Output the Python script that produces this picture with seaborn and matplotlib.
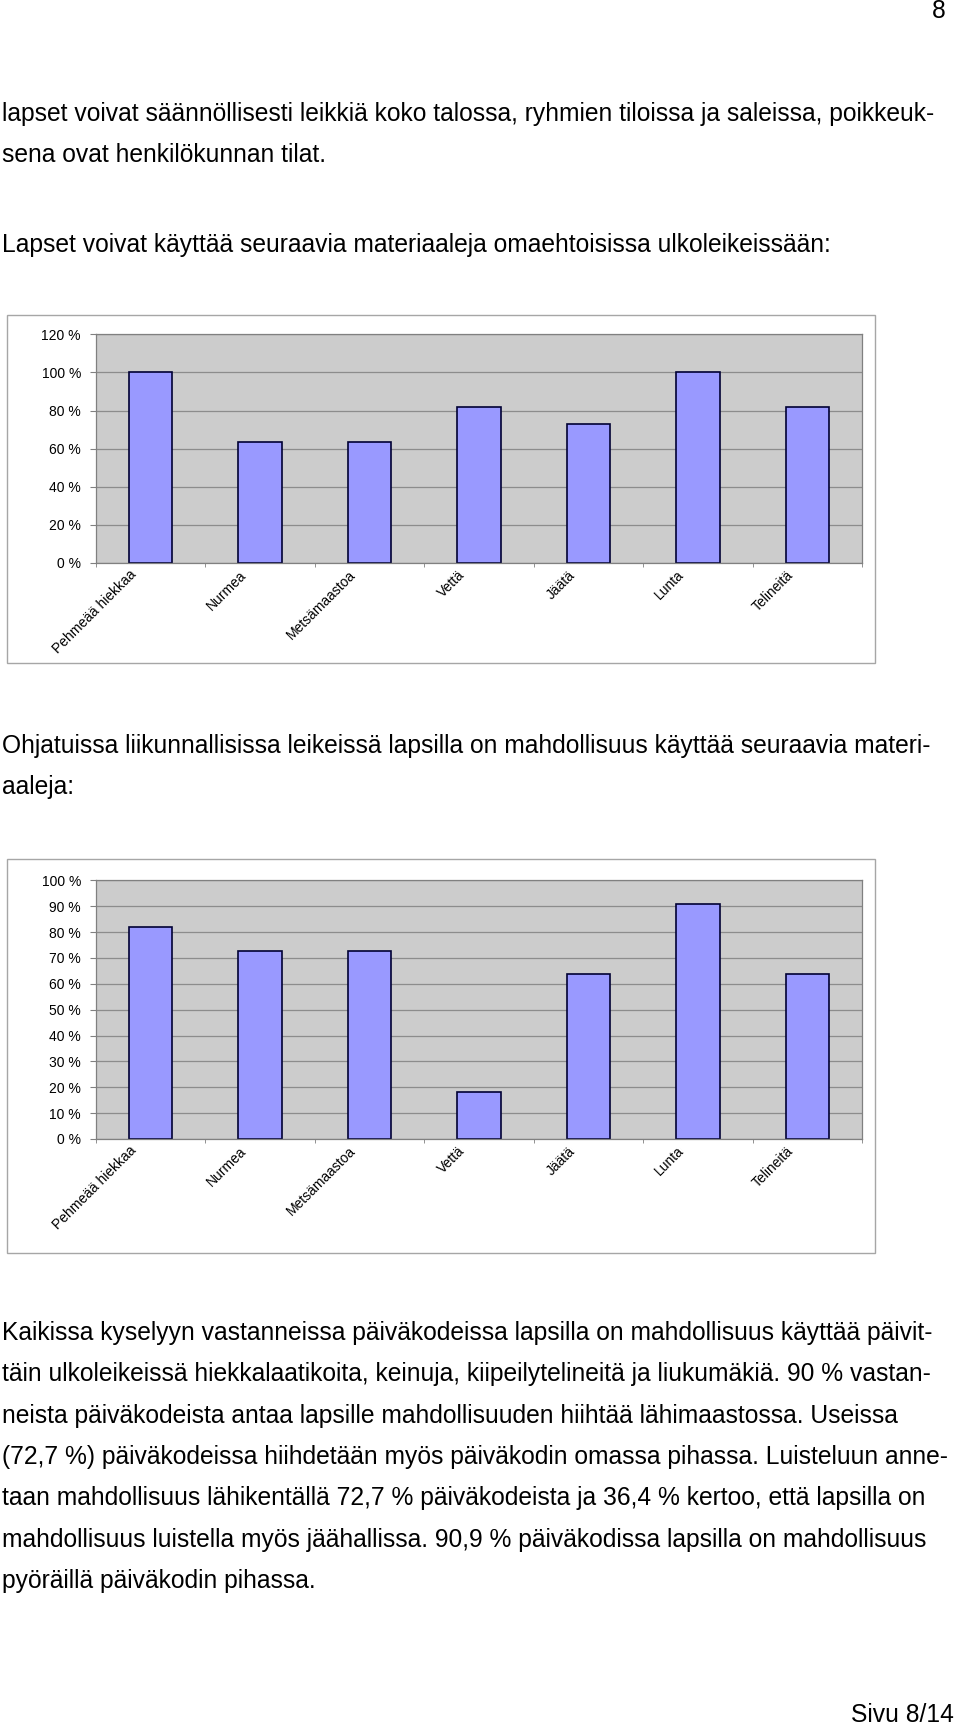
import numpy as np
import matplotlib
matplotlib.use("Agg")
import matplotlib.pyplot as plt
from matplotlib.patches import Rectangle
from matplotlib.transforms import ScaledTranslation
import seaborn as sns

# ---------------- data ----------------
categories = ["Pehmeää hiekkaa", "Nurmea", "Metsämaastoa", "Vettä", "Jäätä", "Lunta", "Telineitä"]
free_play_pct = [100, 63.6, 63.6, 81.8, 72.7, 100, 81.8]
guided_play_pct = [81.8, 72.7, 72.7, 18.2, 63.6, 90.9, 63.6]
yticks_chart1 = [0, 20, 40, 60, 80, 100, 120]
yticks_chart2 = [0, 10, 20, 30, 40, 50, 60, 70, 80, 90, 100]

page_number = "8"
footer = "Sivu 8/14"
para1 = ["lapset voivat säännöllisesti leikkiä koko talossa, ryhmien tiloissa ja saleissa, poikkeuk-",
         "sena ovat henkilökunnan tilat."]
para2 = ["Lapset voivat käyttää seuraavia materiaaleja omaehtoisissa ulkoleikeissään:"]
para3 = ["Ohjatuissa liikunnallisissa leikeissä lapsilla on mahdollisuus käyttää seuraavia materi-",
         "aaleja:"]
para4 = ["Kaikissa kyselyyn vastanneissa päiväkodeissa lapsilla on mahdollisuus käyttää päivit-",
         "täin ulkoleikeissä hiekkalaatikoita, keinuja, kiipeilytelineitä ja liukumäkiä. 90 % vastan-",
         "neista päiväkodeista antaa lapsille mahdollisuuden hiihtää lähimaastossa. Useissa",
         "(72,7 %) päiväkodeissa hiihdetään myös päiväkodin omassa pihassa. Luisteluun anne-",
         "taan mahdollisuus lähikentällä 72,7 % päiväkodeista ja 36,4 % kertoo, että lapsilla on",
         "mahdollisuus luistella myös jäähallissa. 90,9 % päiväkodissa lapsilla on mahdollisuus",
         "pyöräillä päiväkodin pihassa."]

W, H = 960, 1725
fig = plt.figure(figsize=(W / 100, H / 100), dpi=100)
fig.patch.set_facecolor("white")

bg = fig.add_axes([0, 0, 1, 1], zorder=0)
bg.set_xlim(0, W)
bg.set_ylim(H, 0)
bg.axis("off")

BODY_FONT = "Liberation Sans"
renderer = fig.canvas.get_renderer()
probe = bg.text(0, 0, para1[0], fontsize=10, family=BODY_FONT)
wref = probe.get_window_extent(renderer).width
probe.remove()
fs = 10 * 938 / wref

def draw_lines(lines, y0, step=41.3, x=2):
    for i, s in enumerate(lines):
        bg.text(x, y0 + i * step, s, fontsize=fs, family=BODY_FONT, ha="left", va="baseline", color="black")

bg.text(946, 18, page_number, fontsize=fs, family=BODY_FONT, ha="right", va="baseline")
draw_lines(para1, 121)
draw_lines(para2, 252)
draw_lines(para3, 753)
draw_lines(para4, 1340)
bg.text(954, 1722, footer, fontsize=fs, family=BODY_FONT, ha="right", va="baseline")

# chart frames
bg.add_patch(Rectangle((7, 315.3), 868, 347.4, fill=False, edgecolor="#A6A6A6", lw=1.0))
bg.add_patch(Rectangle((7, 859), 868, 393.7, fill=False, edgecolor="#A6A6A6", lw=1.0))

TICK_FONT = "Liberation Sans"

def make_chart(top, bottom, values, yticks, ymax):
    left, right = 95.7, 862.3
    ax = fig.add_axes([left / W, 1 - bottom / H, (right - left) / W, (bottom - top) / H], zorder=2)
    ax.set_facecolor("#CCCCCC")
    sns.barplot(x=categories, y=values, color="#9999FF", saturation=1, width=0.4,
                edgecolor="#000033", linewidth=1.2, ax=ax)
    ax.set_xlim(-0.5, len(categories) - 0.5)
    ax.set_ylim(0, ymax)
    ax.set_yticks(yticks)
    ax.set_yticklabels([f"{v} %" for v in yticks], family=TICK_FONT, fontsize=10)
    ax.yaxis.grid(True, color="#8C8C8C", lw=0.9)
    ax.xaxis.grid(False)
    ax.set_axisbelow(True)
    ax.set_xlabel("")
    ax.set_ylabel("")
    for sp in ax.spines.values():
        sp.set_color("#808080")
        sp.set_linewidth(0.9)
    ax.tick_params(axis="y", length=4.1, color="#808080", pad=6.5, labelcolor="black")
    ax.set_xticks(range(len(categories)))
    ax.set_xticks(np.arange(-0.5, len(categories), 1.0), minor=True)
    ax.tick_params(axis="x", which="major", length=0, pad=7)
    ax.tick_params(axis="x", which="minor", length=3, color="#808080")
    ax.set_xticklabels(categories, rotation=45, ha="right", va="center",
                       rotation_mode="anchor", family=TICK_FONT, fontsize=10)
    off = ScaledTranslation(-16 / 100, 0, fig.dpi_scale_trans)
    for lbl in ax.get_xticklabels():
        lbl.set_transform(lbl.get_transform() + off)
    return ax

make_chart(334.3, 563, free_play_pct, yticks_chart1, 120)
make_chart(880.3, 1139, guided_play_pct, yticks_chart2, 100)

fig.savefig("out.png", dpi=100)
